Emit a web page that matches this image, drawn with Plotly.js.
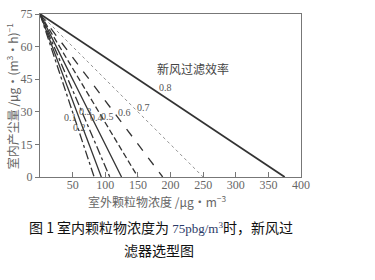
<!DOCTYPE html>
<html>
<head>
<meta charset="utf-8">
<script src="https://cdn.plot.ly/plotly-3.0.1.min.js"></script>
<style>
  html, body { margin: 0; padding: 0; background: #fff; }
  #chart { width: 375px; height: 280px; }
</style>
</head>
<body>
<div id="chart"></div>
<script>
// Fresh-air filter efficiency lines: indoor dust generation vs outdoor concentration
const efficiencies = ['0.1', '0.2', '0.3', '0.4', '0.5', '0.6', '0.7', '0.8'];
const indoorStart = 75;                                   // μg/(m³·h) at zero outdoor concentration
const outdoorIntercepts = [83, 94, 107, 125, 150, 188, 250, 375]; // μg/m³ where generation reaches 0
const xTicks = [50, 100, 150, 200, 250, 300, 350, 400];
const yTicks = [0, 15, 30, 45, 60, 75];

const dashes = ['dashdot', 'solid', 'dashdot', 'solid', '6px,3px', 'dash', 'dot', 'solid'];
const widths = [1.3, 1.3, 1.3, 1.3, 1.3, 1.3, 0.8, 1.8];
const lineColors = ['#333', '#333', '#333', '#333', '#333', '#333', '#777', '#333'];

// label anchor points (data coordinates) for each efficiency
const labelX = [46, 61, 69, 87, 104, 129, 159, 193];
const labelY = [27.6, 23, 30, 27.6, 28, 29.5, 32, 41.4];

const traces = efficiencies.map((e, i) => ({
  x: [0, outdoorIntercepts[i]],
  y: [indoorStart, 0],
  mode: 'lines',
  line: { color: lineColors[i], width: widths[i], dash: dashes[i] },
  hoverinfo: 'skip',
  showlegend: false
}));

const serif = 'Liberation Serif, DejaVu Serif, serif';
const cjk = 'Noto Sans CJK SC, sans-serif';

const annotations = efficiencies.map((e, i) => ({
  x: labelX[i], y: labelY[i], xref: 'x', yref: 'y',
  text: e, showarrow: false,
  font: { family: serif, size: 10, color: '#555' }
}));

annotations.push({
  x: 234, y: 50, xref: 'x', yref: 'y',
  text: '新风过滤效率', showarrow: false,
  font: { family: cjk, size: 12, color: '#444' }
});

// axis titles
annotations.push({
  x: 0.448, y: -0.147, xref: 'paper', yref: 'paper',
  xanchor: 'center', yanchor: 'middle',
  text: '室外颗粒物浓度 /μg·m<sup>−3</sup>', showarrow: false,
  font: { family: cjk, size: 12, color: '#666' }
});
annotations.push({
  x: -0.108, y: 0.5, xref: 'paper', yref: 'paper',
  xanchor: 'center', yanchor: 'middle', textangle: -90,
  text: '室内产尘量 /μg·(m<sup>3</sup>·h)<sup>−1</sup>', showarrow: false,
  font: { family: cjk, size: 12, color: '#666' }
});

// figure caption
annotations.push({
  x: -0.05, y: -0.307, xref: 'paper', yref: 'paper',
  xanchor: 'left', yanchor: 'middle',
  text: '图 1 室内颗粒物浓度为 <span style="font-family:Liberation Serif;font-size:13px;color:#2b3a67">75pbg/m<sup>3</sup></span>时，新风过',
  showarrow: false,
  font: { family: cjk, size: 14, color: '#111' }
});
annotations.push({
  x: 0.314, y: -0.448, xref: 'paper', yref: 'paper',
  xanchor: 'left', yanchor: 'middle',
  text: '滤器选型图',
  showarrow: false,
  font: { family: cjk, size: 14, color: '#111' }
});

const layout = {
  width: 375, height: 280,
  margin: { l: 40, r: 74, t: 14, b: 103 },
  paper_bgcolor: '#fff', plot_bgcolor: '#fff',
  font: { family: serif, color: '#666' },
  xaxis: {
    range: [0, 400], tickvals: xTicks,
    ticks: 'inside', ticklen: 5, tickcolor: '#777',
    ticklabelstandoff: -3,
    showline: true, linecolor: '#777', linewidth: 1, mirror: true,
    showgrid: false, zeroline: false,
    tickfont: { family: serif, size: 12, color: '#666' }
  },
  yaxis: {
    range: [0, 75], tickvals: yTicks,
    ticks: 'outside', ticklen: 4, tickcolor: '#777',
    showline: true, linecolor: '#777', linewidth: 1, mirror: true,
    showgrid: false, zeroline: false,
    tickfont: { family: serif, size: 12, color: '#666' }
  },
  annotations: annotations
};

Plotly.newPlot('chart', traces, layout, { staticPlot: true, displayModeBar: false });
</script>
</body>
</html>
